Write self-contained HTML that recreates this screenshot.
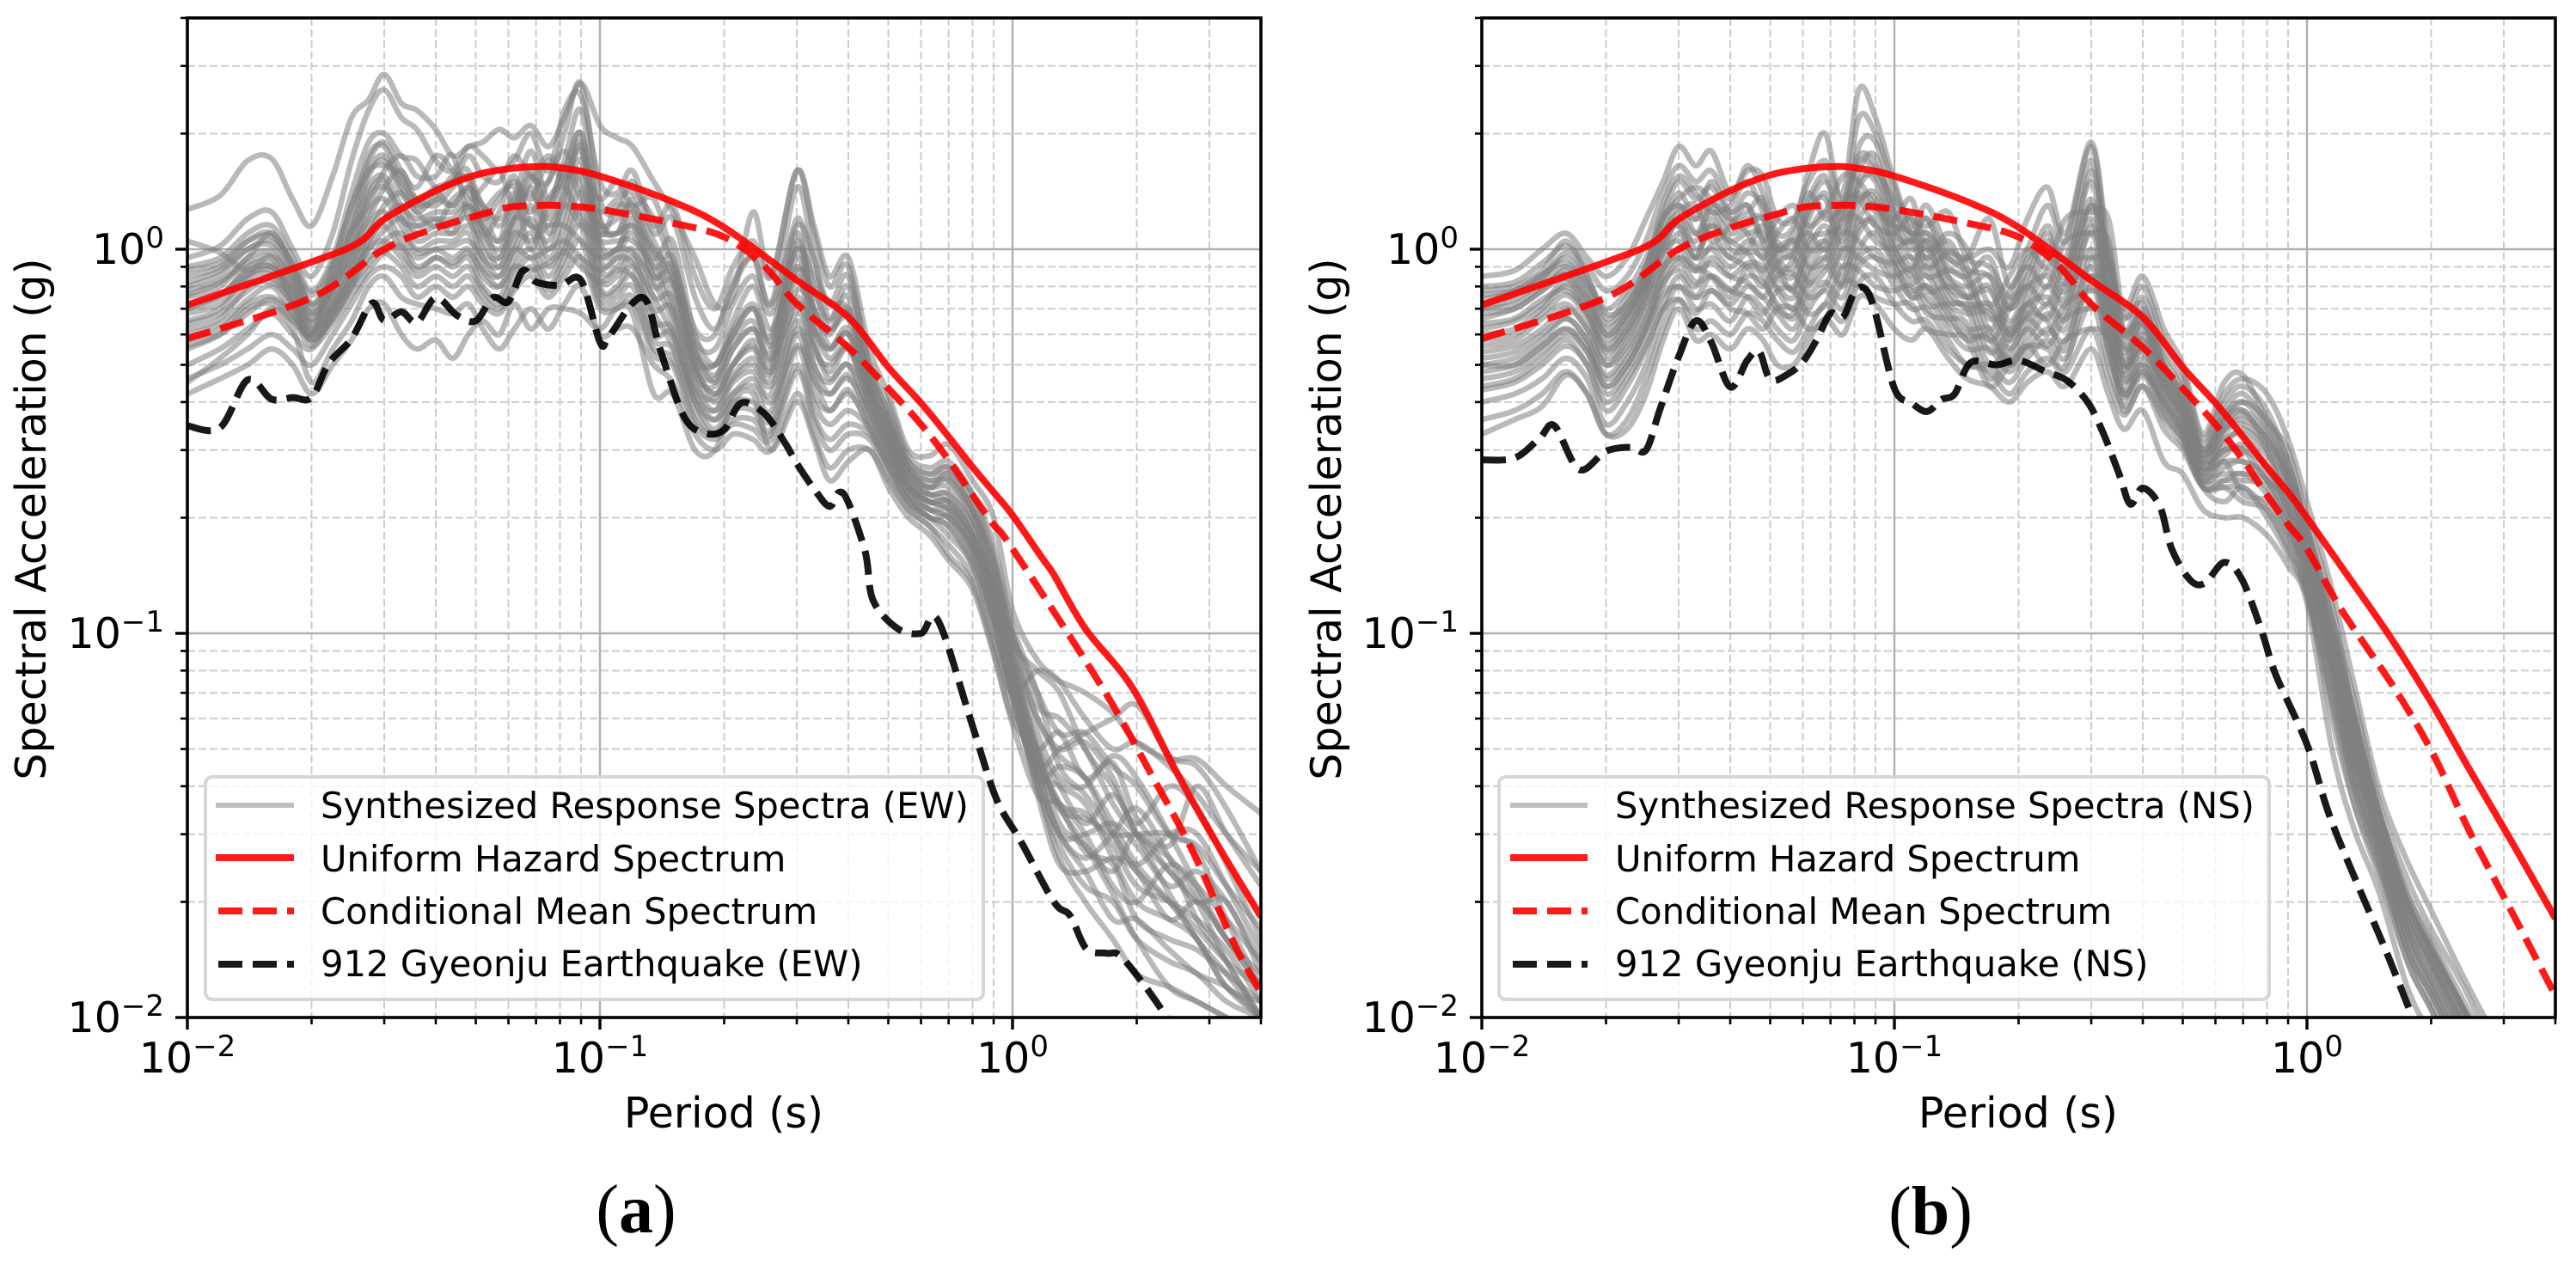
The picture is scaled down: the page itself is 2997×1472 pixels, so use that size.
<!DOCTYPE html>
<html lang="en">
<head>
<meta charset="utf-8">
<title>Spectral acceleration response spectra</title>
<style>
html,body{margin:0;padding:0;background:#fff;}
svg{display:block;font-family:"DejaVu Sans","Liberation Sans",sans-serif;}
.leg{font-size:41.7px;fill:#000;}
.axt{font-size:49px;fill:#000;}
.cap{font-family:"Liberation Serif",serif;font-size:80px;fill:#000;}
</style>
</head>
<body>
<svg id="figure" xmlns="http://www.w3.org/2000/svg" width="2997" height="1472" viewBox="0 0 2997 1472">
  <defs>
    <clipPath id="clip-a"><rect x="218" y="20.9" width="1249" height="1163.1"/></clipPath>
    <clipPath id="clip-b"><rect x="1724" y="20.9" width="1249" height="1163.1"/></clipPath>
  </defs>

  <g id="panel-a"></g>
  <g>
    <rect x="239" y="904" width="905" height="259" rx="8" fill="#fff" fill-opacity="0.8" stroke="#d6d6d6" stroke-width="4"/>
    <line x1="251" x2="342" y1="937" y2="937" stroke="#808080" stroke-opacity="0.5" stroke-width="6"/>
    <text class="leg" x="373" y="952">Synthesized Response Spectra (EW)</text>
    <line x1="251" x2="342" y1="998" y2="998" stroke="#ff0000" stroke-opacity="0.9" stroke-width="8"/>
    <text class="leg" x="373" y="1014">Uniform Hazard Spectrum</text>
    <line x1="254" x2="342" y1="1060" y2="1060" stroke="#ff0000" stroke-opacity="0.9" stroke-width="8" stroke-dasharray="28 12"/>
    <text class="leg" x="373" y="1075">Conditional Mean Spectrum</text>
    <line x1="254" x2="342" y1="1122" y2="1122" stroke="#000" stroke-opacity="0.9" stroke-width="8" stroke-dasharray="28 12"/>
    <text class="leg" x="373" y="1136">912 Gyeonju Earthquake (EW)</text>
  </g>
  <text class="axt" x="842" y="1312" text-anchor="middle">Period (s)</text>
  <text class="axt" transform="translate(53 604) rotate(-90)" text-anchor="middle">Spectral Acceleration (g)</text>
  <text class="cap" x="740" y="1434" text-anchor="middle">(<tspan font-weight="bold">a</tspan>)</text>

  <g id="panel-b"></g>
  <g>
    <rect x="1744" y="904" width="896" height="259" rx="8" fill="#fff" fill-opacity="0.8" stroke="#d6d6d6" stroke-width="4"/>
    <line x1="1757" x2="1847" y1="937" y2="937" stroke="#808080" stroke-opacity="0.5" stroke-width="6"/>
    <text class="leg" x="1879" y="952">Synthesized Response Spectra (NS)</text>
    <line x1="1757" x2="1847" y1="998" y2="998" stroke="#ff0000" stroke-opacity="0.9" stroke-width="8"/>
    <text class="leg" x="1879" y="1014">Uniform Hazard Spectrum</text>
    <line x1="1760" x2="1847" y1="1060" y2="1060" stroke="#ff0000" stroke-opacity="0.9" stroke-width="8" stroke-dasharray="28 12"/>
    <text class="leg" x="1879" y="1075">Conditional Mean Spectrum</text>
    <line x1="1760" x2="1847" y1="1122" y2="1122" stroke="#000" stroke-opacity="0.9" stroke-width="8" stroke-dasharray="28 12"/>
    <text class="leg" x="1879" y="1136">912 Gyeonju Earthquake (NS)</text>
  </g>
  <text class="axt" x="2348" y="1312" text-anchor="middle">Period (s)</text>
  <text class="axt" transform="translate(1560 604) rotate(-90)" text-anchor="middle">Spectral Acceleration (g)</text>
  <text class="cap" x="2246" y="1436" text-anchor="middle">(<tspan font-weight="bold">b</tspan>)</text>
</svg>

<script>
// ---- shared axis data ----
const majorTicks = [0.01, 0.1, 1];
const majorExponents = ["\u22122", "\u22121", "0"];
const minorMultiples = [2, 3, 4, 5, 6, 7, 8, 9];
const axisMin = 0.01;
const axisMax = 4;

// ---- period grid of the synthesized spectra (s) ----
const periods = [0.01,0.012,0.014,0.016,0.018,0.02,0.0225,0.025,0.0275,0.03,
0.033,0.036,0.04,0.044,0.048,0.052,0.057,0.062,0.068,0.075,
0.082,0.09,0.1,0.11,0.12,0.135,0.15,0.17,0.19,0.21,
0.235,0.26,0.3,0.33,0.36,0.4,0.45,0.5,0.56,0.63,
0.7,0.8,0.9,1,1.15,1.3,1.5,1.75,2,2.4,2.8,3.3,4];

// ---- synthesized spectra, EW component (g) ----
const synthesizedEW = [
[1.27,1.38,1.7,1.72,1.35,1.15,1.55,2.2,2.45,2.85,2.4,2.3,2.05,1.75,1.85,1.9,2.05,1.95,2.1,1.85,2.2,2.7,2.1,1.95,1.85,1.5,1.25,.95,.72,.75,1.25,.85,1.6,1.15,.85,.95,.55,.42,.3,.29,.31,.25,.2,.115,.085,.075,.06,.05,.052,.045,.038,.03,.024],
[.95,1.02,1.2,1.25,1.0,.85,1.1,1.7,2.3,2.6,2.2,2.05,1.7,1.6,1.85,1.75,1.6,1.7,2.0,1.6,2.3,2.5,1.5,1.4,1.6,1.15,1.3,.85,.7,.9,1.05,.85,1.6,1.1,.8,.9,.5,.4,.29,.27,.28,.23,.16,.1,.07,.055,.055,.045,.04,.03,.028,.022,.017],
[.9,.95,1.1,1.15,.95,.78,.95,1.4,1.9,2.0,1.75,1.7,1.45,1.5,1.75,1.55,1.5,1.75,1.55,1.5,2.0,2.7,1.35,1.25,1.5,1.1,1.2,.75,.62,.8,.95,.72,1.45,.95,.72,.85,.48,.38,.28,.26,.27,.22,.15,.095,.08,.07,.05,.04,.032,.04,.035,.025,.016],
[.85,.9,1.05,1.1,.9,.72,.88,1.2,1.75,1.85,1.5,1.35,1.3,1.45,1.55,1.3,1.2,1.35,1.8,1.35,1.7,2.3,1.2,1.1,1.35,.95,1.05,.6,.5,.62,.72,.6,1.2,.8,.65,.75,.45,.35,.27,.25,.25,.21,.14,.09,.06,.05,.052,.042,.03,.024,.02,.02,.013],
[.8,.86,1.0,1.02,.85,.68,.82,1.1,1.55,1.7,1.4,1.25,1.15,1.35,1.4,1.15,1.05,1.25,1.6,1.2,1.5,2.0,1.05,1.0,1.2,.85,.9,.55,.45,.55,.62,.55,1.05,.7,.6,.7,.44,.34,.26,.24,.24,.2,.135,.085,.05,.035,.033,.03,.03,.03,.027,.018,.012],
[.75,.8,.95,.98,.82,.65,.8,1.05,1.45,1.55,1.3,1.2,1.25,1.25,1.3,1.0,.95,1.15,1.45,1.1,1.35,1.85,.95,.95,1.1,.8,.82,.5,.42,.5,.58,.5,.95,.62,.55,.62,.42,.33,.25,.23,.23,.19,.13,.08,.045,.04,.036,.026,.02,.018,.016,.012,.011],
[.7,.75,.9,.92,.8,.62,.75,.95,1.35,1.45,1.25,1.1,1.15,1.15,1.2,.95,.9,1.05,1.3,1.0,1.25,1.7,.9,.9,1.0,.75,.75,.48,.4,.47,.52,.46,.85,.55,.5,.55,.4,.32,.25,.22,.22,.18,.125,.078,.042,.03,.026,.03,.035,.026,.018,.014,.01],
[.65,.7,.85,.88,.75,.6,.7,.9,1.25,1.35,1.15,1.0,1.05,1.05,1.1,.9,.85,1.0,1.2,.95,1.15,1.55,.85,.85,.95,.7,.7,.45,.38,.45,.48,.42,.75,.5,.45,.5,.38,.3,.24,.22,.21,.17,.12,.075,.04,.028,.022,.02,.016,.014,.013,.011,.01],
[.62,.66,.8,.82,.72,.58,.68,.85,1.15,1.25,1.05,.95,1.0,.95,1.0,.85,.8,.95,1.1,.9,1.05,1.4,.8,.8,.9,.65,.62,.42,.36,.42,.44,.38,.65,.46,.42,.46,.37,.29,.24,.21,.2,.165,.115,.072,.038,.025,.024,.026,.024,.018,.02,.016,.012],
[.58,.62,.72,.75,.68,.58,.66,.8,1.05,1.15,1.0,.88,.95,.9,.95,.8,.75,.9,1.0,.85,1.0,1.25,.78,.78,.85,.6,.6,.4,.34,.4,.4,.36,.6,.42,.38,.42,.35,.28,.23,.21,.2,.16,.11,.07,.045,.035,.028,.021,.016,.012,.011,.01,.009],
[.55,.6,.7,.72,.65,.6,.72,.85,1.0,1.05,.95,.85,.9,.85,.9,.78,.72,.85,.95,.8,.95,1.15,.75,.75,.8,.58,.55,.38,.33,.38,.38,.34,.55,.4,.35,.38,.34,.27,.22,.2,.19,.15,.105,.068,.042,.045,.042,.032,.025,.02,.016,.012,.01],
[.5,.55,.62,.68,.6,.55,.68,.8,.95,.98,.9,.8,.85,.8,.85,.75,.7,.8,.9,.78,.9,1.05,.72,.72,.75,.55,.52,.36,.33,.36,.36,.33,.5,.37,.32,.35,.33,.27,.22,.2,.18,.15,.1,.065,.045,.05,.055,.06,.065,.048,.045,.035,.024],
[.46,.5,.55,.6,.55,.5,.6,.72,.85,.9,.85,.75,.8,.75,.8,.72,.68,.78,.85,.75,.85,.95,.7,.7,.72,.53,.5,.35,.32,.35,.34,.32,.48,.36,.3,.33,.32,.26,.21,.19,.17,.14,.095,.07,.08,.075,.07,.062,.052,.047,.047,.04,.034],
[.45,.52,.6,.7,.62,.45,.55,.65,.8,.85,.75,.72,.7,.68,.72,.62,.55,.62,.7,.62,.72,.8,.6,.62,.62,.5,.45,.33,.3,.33,.32,.3,.42,.33,.27,.3,.3,.25,.21,.19,.16,.135,.09,.06,.05,.055,.042,.046,.033,.028,.04,.03,.022],
[.42,.46,.5,.55,.5,.42,.5,.58,.7,.72,.6,.55,.58,.52,.6,.65,.6,.72,.62,.7,.7,.68,.62,.7,.68,.42,.42,.3,.3,.4,.42,.3,.4,.32,.25,.28,.3,.24,.2,.18,.155,.13,.088,.058,.038,.036,.03,.022,.02,.025,.022,.018,.014],
[1.05,.98,.88,.95,.72,.6,.9,1.3,1.6,1.65,1.55,1.3,1.35,1.55,1.5,1.2,1.35,1.5,1.35,1.7,1.5,1.8,1.1,1.3,1.25,1.0,.85,.52,.5,.6,.7,.58,1.0,.7,.62,.68,.46,.36,.27,.24,.26,.21,.15,.095,.06,.048,.042,.03,.025,.03,.03,.022,.015],
[.78,.83,.95,1.1,.9,.72,.85,1.15,1.6,1.75,1.45,1.3,1.4,1.3,1.45,1.3,1.15,1.3,1.55,1.3,1.6,2.0,1.2,1.1,1.25,.9,.95,.55,.47,.58,.65,.52,1.1,.66,.55,.6,.43,.33,.26,.23,.22,.18,.13,.082,.048,.036,.027,.025,.018,.016,.015,.013,.011],
[.72,.76,.88,.9,.78,.66,.78,1.0,1.4,1.5,1.2,1.15,1.2,1.1,1.3,1.1,1.0,1.2,1.4,1.15,1.4,1.9,1.0,1.0,1.15,.85,.85,.5,.42,.5,.55,.48,.9,.58,.48,.55,.4,.31,.24,.22,.21,.17,.125,.076,.044,.03,.03,.032,.028,.022,.024,.02,.014],
[.88,.92,1.05,1.08,.92,.76,.92,1.3,1.7,1.9,1.6,1.45,1.75,1.6,1.35,1.45,1.6,1.3,1.5,1.75,1.55,1.6,1.35,1.5,1.3,1.35,.95,.62,.6,.82,.95,.72,1.15,.95,.66,.8,.5,.37,.28,.26,.27,.23,.17,.105,.07,.045,.038,.03,.024,.02,.017,.014,.012],
[.82,.88,1.0,1.05,.88,.7,.84,1.12,1.3,1.6,1.75,1.55,1.55,1.75,1.2,1.25,1.4,1.45,1.25,1.5,1.8,1.45,1.25,1.35,1.4,1.2,.9,.58,.55,.72,.85,.68,1.0,.85,.72,.7,.47,.36,.27,.25,.26,.21,.155,.1,.065,.06,.05,.036,.03,.026,.021,.016,.013],
[.76,.82,.92,.96,.84,.68,.8,1.0,1.2,1.45,1.6,1.35,1.45,1.5,1.6,1.1,1.25,1.55,1.15,1.25,1.65,1.35,1.15,1.2,1.3,1.05,.8,.54,.5,.65,.8,.62,.88,.78,.62,.66,.44,.34,.26,.24,.25,.2,.14,.09,.055,.042,.04,.048,.042,.03,.022,.016,.012],
[.7,.76,.86,.9,.78,.64,.76,.94,1.1,1.3,1.4,1.25,1.35,1.3,1.45,1.25,1.05,1.4,1.0,1.35,1.45,1.2,1.1,1.1,1.15,.98,.72,.5,.46,.6,.7,.56,.78,.7,.56,.6,.42,.32,.25,.23,.23,.19,.13,.085,.05,.036,.034,.028,.022,.02,.018,.015,.011],
[.68,.72,.84,.86,.74,.62,.72,.88,1.05,1.2,1.3,1.15,1.2,1.2,1.3,1.15,.95,1.2,1.15,1.05,1.3,1.15,1.05,1.05,1.05,.9,.68,.47,.44,.55,.62,.52,.72,.62,.52,.56,.4,.31,.24,.22,.22,.18,.12,.08,.048,.032,.028,.024,.03,.024,.02,.014,.01],
[.64,.68,.78,.84,.72,.6,.7,.84,1.0,1.12,1.2,1.05,1.1,1.1,1.15,1.05,.9,1.1,1.05,1.15,1.15,1.05,.95,1.0,.98,.82,.65,.44,.41,.5,.56,.48,.68,.56,.46,.5,.38,.3,.23,.21,.21,.175,.118,.074,.044,.03,.024,.018,.018,.015,.013,.012,.01],
[.6,.64,.74,.8,.68,.58,.66,.8,.92,1.05,1.1,.98,1.0,1.02,1.05,.95,.85,1.0,.95,1.0,1.05,.95,.88,.95,.92,.75,.6,.42,.38,.46,.5,.44,.62,.5,.42,.47,.36,.29,.23,.2,.2,.165,.11,.07,.05,.04,.032,.038,.03,.021,.016,.013,.01],
[.56,.6,.68,.74,.66,.56,.64,.76,.88,.98,1.02,.9,.95,.92,.98,.88,.8,.9,.88,.92,.98,.9,.82,.88,.85,.68,.56,.4,.36,.42,.46,.4,.56,.46,.38,.43,.34,.28,.22,.2,.19,.155,.108,.068,.04,.026,.02,.016,.013,.012,.011,.01,.009]
];

// ---- synthesized spectra, NS component (g) ----
const synthesizedNS = [
[.85,.88,1.0,1.1,.95,.85,.95,1.2,1.5,1.85,1.65,1.8,1.4,1.6,1.55,1.2,1.2,1.5,1.7,1.4,2.6,2.2,1.5,1.15,1.3,1.0,.95,1.0,.9,1.2,1.45,1.1,1.9,1.0,.7,.85,.62,.5,.33,.45,.47,.36,.3,.2,.12,.06,.032,.02,.015,.0105,.008,.006,.0045],
[.8,.82,.92,1.02,.9,.78,.85,1.05,1.4,1.65,1.5,1.6,1.35,1.65,1.4,1.1,1.15,1.6,2.0,1.3,2.2,2.0,1.45,1.1,1.2,.95,.95,1.2,.8,1.0,1.3,1.05,1.85,.95,.66,.8,.58,.48,.32,.42,.46,.42,.32,.22,.13,.074,.039,.0255,.019,.0127,.0093,.007,.005],
[.72,.76,.85,.95,.82,.7,.78,.95,1.25,1.5,1.35,1.45,1.25,1.4,1.3,1.05,1.0,1.35,1.55,1.2,1.85,1.9,1.3,1.05,1.1,.9,.85,.95,.7,.9,1.15,.95,1.7,.85,.6,.75,.55,.45,.31,.4,.44,.38,.28,.19,.11,.068,.036,.023,.017,.012,.0085,.0065,.005],
[.66,.7,.78,.88,.75,.62,.7,.85,1.15,1.4,1.2,1.3,1.15,1.2,1.2,.95,.9,1.2,1.4,1.1,1.6,1.75,1.2,1.0,1.05,.85,.8,.85,.65,.8,1.05,.9,1.5,.8,.56,.7,.52,.43,.3,.37,.4,.34,.26,.18,.1,.06,.034,.021,.016,.011,.008,.006,.0045],
[.62,.65,.72,.82,.7,.56,.65,.8,1.05,1.3,1.1,1.15,1.05,1.1,1.1,.9,.85,1.1,1.25,1.05,1.45,1.55,1.15,.95,1.0,.8,.75,.8,.6,.75,.95,.82,1.35,.75,.52,.65,.5,.41,.29,.34,.36,.32,.25,.17,.095,.055,.032,.02,.015,.0105,.0075,.0055,.004],
[.58,.6,.68,.76,.66,.52,.6,.75,1.0,1.2,1.0,1.1,.95,1.05,1.0,.85,.8,1.0,1.15,.95,1.3,1.4,1.05,.9,.95,.78,.7,.72,.58,.7,.88,.78,1.2,.7,.5,.62,.47,.39,.28,.32,.33,.29,.24,.165,.09,.052,.031,.019,.0145,.0098,.0072,.0052,.004],
[.54,.56,.62,.7,.62,.5,.56,.7,.92,1.1,.95,1.0,.9,.98,.95,.8,.75,.95,1.05,.9,1.2,1.3,1.0,.85,.9,.72,.68,.68,.55,.66,.8,.72,1.1,.66,.47,.58,.45,.37,.27,.3,.3,.27,.22,.16,.088,.05,.03,.018,.014,.0095,.007,.005,.0038],
[.5,.52,.58,.66,.58,.46,.52,.65,.88,1.0,.88,.92,.85,.92,.9,.78,.7,.88,1.0,.85,1.1,1.2,.95,.82,.85,.7,.62,.62,.52,.62,.72,.66,1.0,.62,.45,.55,.43,.36,.27,.28,.28,.26,.21,.155,.085,.048,.03,.0175,.0135,.0092,.0068,.005,.0036],
[.46,.48,.54,.6,.54,.42,.48,.6,.8,.92,.82,.85,.78,.85,.82,.72,.66,.8,.9,.8,1.0,1.1,.9,.78,.8,.65,.6,.58,.5,.58,.68,.62,.9,.58,.43,.52,.41,.34,.26,.26,.26,.25,.2,.15,.082,.046,.029,.017,.013,.009,.0066,.0048,.0035],
[.43,.45,.5,.56,.5,.38,.44,.55,.72,.85,.75,.78,.72,.8,.75,.68,.62,.75,.82,.75,.95,1.0,.85,.75,.75,.62,.55,.55,.48,.55,.62,.58,.8,.55,.41,.5,.39,.33,.25,.25,.25,.24,.19,.145,.08,.045,.028,.0165,.0125,.0085,.0062,.0046,.0034],
[.4,.42,.46,.52,.46,.35,.4,.5,.68,.8,.7,.72,.65,.75,.7,.62,.58,.7,.78,.7,.9,.95,.8,.7,.7,.58,.5,.5,.45,.52,.58,.52,.72,.5,.39,.47,.37,.32,.25,.28,.23,.22,.18,.14,.075,.042,.027,.016,.012,.008,.006,.0044,.0032],
[.36,.38,.42,.48,.42,.33,.36,.46,.62,.74,.62,.65,.6,.68,.65,.58,.54,.62,.72,.65,.82,.85,.72,.65,.65,.55,.5,.48,.42,.48,.52,.48,.62,.46,.37,.44,.34,.3,.24,.24,.22,.21,.17,.13,.07,.04,.026,.015,.0115,.0078,.0058,.0042,.003],
[.33,.36,.39,.47,.42,.33,.34,.42,.58,.7,.58,.6,.55,.62,.58,.5,.5,.58,.66,.6,.75,.72,.62,.58,.62,.52,.46,.44,.4,.45,.48,.44,.55,.42,.34,.38,.28,.26,.21,.2,.2,.18,.15,.12,.05,.031,.021,.012,.009,.0065,.005,.0035,.0025],
[.78,.8,.88,1.05,.85,.66,.75,.9,1.3,1.55,1.4,1.25,1.3,1.5,1.25,1.0,1.1,1.4,1.2,1.3,1.7,1.6,1.35,1.2,1.15,1.25,.95,.9,.75,.85,1.1,.85,1.6,.9,.6,.68,.5,.4,.29,.36,.38,.31,.25,.17,.1,.058,.033,.02,.015,.0105,.0076,.0055,.004],
[.7,.74,.82,.9,.78,.6,.68,.82,1.1,1.25,1.3,1.05,1.15,1.3,1.05,.88,.95,1.25,1.35,1.0,1.5,1.5,1.1,1.05,1.2,.85,.75,.78,.62,.72,.75,.68,1.15,.72,.5,.56,.44,.36,.26,.33,.35,.3,.2,.13,.06,.036,.024,.014,.0105,.0072,.0055,.004,.003],
[.6,.62,.7,.8,.68,.54,.62,.78,1.05,1.15,.95,1.2,1.0,1.0,1.15,.92,.78,1.05,1.1,1.15,1.35,1.35,1.0,.88,1.05,.75,.72,.7,.6,.68,.65,.55,.95,.6,.48,.6,.46,.38,.28,.3,.3,.25,.22,.15,.09,.052,.03,.019,.014,.0098,.0072,.0052,.004],
[.5,.5,.56,.62,.56,.44,.5,.62,.85,.95,.9,.85,.75,.9,.85,.7,.68,.85,.95,.82,1.15,1.15,.92,.75,.8,.68,.58,.6,.5,.56,.55,.5,.85,.54,.42,.48,.4,.33,.24,.22,.24,.2,.16,.125,.068,.04,.025,.015,.011,.0075,.0055,.004,.003],
[.76,.78,.84,.98,.85,.68,.72,.88,1.2,1.35,1.45,1.35,1.2,1.25,1.35,1.0,.98,1.3,1.5,1.25,1.75,1.65,1.25,1.1,1.1,.95,.88,.85,.7,.8,.85,.75,1.3,.78,.54,.64,.48,.4,.3,.38,.42,.35,.27,.185,.105,.062,.034,.021,.0155,.0105,.0078,.0056,.0042],
[.74,.78,.86,.92,.8,.64,.72,.9,1.2,1.3,1.2,1.5,1.25,1.3,1.05,1.2,1.3,1.15,1.25,1.55,1.5,1.3,1.2,1.35,1.0,1.1,1.0,.72,.85,1.0,.9,1.2,1.25,1.2,.68,.72,.5,.42,.3,.36,.4,.36,.28,.19,.11,.062,.034,.02,.015,.0105,.0078,.0056,.0042],
[.68,.7,.78,.84,.72,.58,.66,.82,1.1,1.15,1.05,1.3,1.2,1.1,.95,1.1,1.2,1.0,1.05,1.35,1.35,1.15,1.1,1.2,.9,.98,.9,.62,.78,.9,.8,1.05,1.1,1.05,.6,.64,.46,.39,.28,.34,.37,.32,.25,.17,.1,.056,.032,.019,.014,.0098,.0072,.0052,.004],
[.64,.66,.74,.78,.68,.55,.62,.76,.98,1.05,.95,1.15,1.05,.98,.88,1.0,1.05,.9,.95,1.2,1.2,1.05,1.0,1.05,.85,.88,.82,.58,.7,.8,.72,.92,.95,.92,.56,.58,.44,.37,.27,.31,.34,.3,.23,.16,.09,.05,.03,.018,.0135,.0092,.0068,.005,.0036],
[.56,.58,.66,.72,.62,.5,.58,.72,.9,.95,.88,1.02,.95,.9,.8,.92,.95,.82,.88,1.1,1.05,.95,.92,.95,.78,.8,.75,.54,.62,.72,.66,.82,.85,.8,.5,.54,.42,.35,.26,.29,.31,.27,.21,.15,.085,.047,.028,.017,.0125,.0088,.0065,.0047,.0035],
[.52,.54,.6,.66,.58,.47,.54,.66,.82,.88,.8,.95,.85,.82,.75,.85,.86,.75,.8,1.0,.95,.88,.85,.88,.72,.72,.7,.5,.58,.66,.6,.72,.78,.72,.46,.5,.4,.34,.25,.27,.28,.25,.19,.14,.08,.044,.027,.016,.012,.0082,.006,.0044,.0033],
[.48,.5,.56,.62,.54,.44,.5,.62,.76,.8,.75,.85,.78,.75,.68,.78,.78,.68,.72,.9,.88,.8,.78,.8,.68,.66,.64,.46,.54,.62,.56,.66,.7,.65,.42,.48,.38,.32,.24,.25,.26,.23,.18,.13,.075,.04,.025,.015,.0115,.0078,.0058,.0042,.003],
[.44,.46,.52,.58,.5,.4,.46,.56,.7,.74,.68,.78,.7,.68,.62,.7,.7,.62,.66,.82,.8,.75,.72,.72,.62,.6,.58,.44,.5,.56,.5,.58,.62,.58,.38,.44,.36,.31,.24,.24,.24,.21,.165,.125,.065,.036,.023,.014,.0105,.0072,.0055,.004,.003],
[.7,.72,.8,.86,.74,.6,.68,.84,1.0,1.2,1.1,1.25,1.1,1.15,1.2,1.0,1.05,1.1,1.0,1.25,1.4,1.25,1.15,1.1,.95,1.05,.85,.66,.72,.95,.98,.88,1.3,.98,.62,.66,.48,.4,.29,.35,.38,.33,.26,.18,.1,.058,.033,.02,.015,.0105,.0076,.0055,.004]
];

// ---- Uniform Hazard Spectrum, EW ----
const uhsPeriodsEW = [0.01,0.02,0.026,0.03,0.04,0.05,0.06,0.07,0.08,0.1,0.15,0.2,0.3,0.4,0.5,0.6,0.7,0.8,0.9,1,1.18,1.26,1.5,1.95,2.5,3.15,4];
const uhsValuesEW = [0.716,0.926,1.04,1.197,1.42,1.56,1.62,1.64,1.63,1.55,1.33,1.14,0.83,0.665,0.493,0.398,0.325,0.271,0.233,0.203,0.157,0.142,0.103,0.0723,0.0434,0.028,0.0183];
// ---- Conditional Mean Spectrum, EW ----
const cmsPeriodsEW = [0.01,0.02,0.03,0.04,0.05,0.06,0.07,0.08,0.1,0.15,0.2,0.25,0.3,0.4,0.5,0.6,0.7,0.8,0.9,1,1.65,2.18,2.75,3.45,4];
const cmsValuesEW = [0.585,0.748,1.0,1.135,1.22,1.285,1.30,1.30,1.27,1.17,1.076,0.906,0.72,0.555,0.434,0.35,0.283,0.229,0.192,0.166,0.0723,0.0425,0.0267,0.0155,0.0116];
// ---- 912 Gyeonju Earthquake, EW ----
const quakePeriodsEW = [0.01,0.012,0.014,0.016,0.018,0.02,0.022,0.025,0.028,0.03,0.033,0.036,0.04,0.045,0.05,0.055,0.06,0.065,0.07,0.08,0.09,0.1,0.105,0.12,0.13,0.14,0.16,0.18,0.2,0.22,0.25,0.28,0.3,0.33,0.36,0.38,0.4,0.44,0.459,0.526,0.6,0.66,0.795,0.913,1.05,1.26,1.38,1.51,1.69,1.82,2.08,2.37];
const quakeValuesEW = [0.347,0.343,0.457,0.407,0.411,0.411,0.504,0.585,0.724,0.652,0.687,0.645,0.748,0.673,0.651,0.748,0.73,0.879,0.822,0.805,0.83,0.573,0.591,0.724,0.73,0.548,0.366,0.332,0.339,0.398,0.374,0.315,0.277,0.238,0.214,0.233,0.219,0.162,0.122,0.103,0.1,0.108,0.0586,0.0372,0.0286,0.02,0.0184,0.0151,0.0147,0.0145,0.0122,0.0100];

// ---- Uniform Hazard Spectrum, NS ----
const uhsPeriodsNS = [0.01,0.02,0.026,0.03,0.04,0.05,0.06,0.07,0.08,0.1,0.15,0.2,0.3,0.4,0.5,0.6,0.7,0.8,0.9,1,1.24,1.59,2.0,2.46,3.14,4];
const uhsValuesNS = [0.716,0.926,1.04,1.197,1.42,1.56,1.62,1.64,1.63,1.55,1.33,1.14,0.83,0.665,0.493,0.398,0.325,0.271,0.233,0.2,0.144,0.098,0.0662,0.0448,0.0286,0.0181];
// ---- Conditional Mean Spectrum, NS ----
const cmsPeriodsNS = [0.01,0.02,0.03,0.04,0.05,0.06,0.07,0.08,0.1,0.15,0.2,0.25,0.3,0.4,0.5,0.6,0.7,0.8,0.9,1,1.21,1.63,2.02,2.46,3.14,4];
const cmsValuesNS = [0.585,0.748,1.0,1.135,1.22,1.285,1.30,1.30,1.27,1.17,1.076,0.906,0.72,0.555,0.434,0.35,0.283,0.229,0.192,0.166,0.1156,0.0719,0.0486,0.031,0.0188,0.0114];
// ---- 912 Gyeonju Earthquake, NS ----
const quakePeriodsNS = [0.01,0.012,0.0138,0.015,0.0172,0.02,0.023,0.025,0.027,0.03,0.033,0.036,0.04,0.044,0.047,0.05,0.055,0.06,0.065,0.07,0.075,0.08,0.085,0.09,0.1,0.11,0.12,0.13,0.14,0.153,0.177,0.2,0.232,0.262,0.294,0.32,0.351,0.373,0.4,0.44,0.47,0.52,0.565,0.63,0.696,0.78,0.84,1,1.13,1.31,1.55,1.79];
const quakeValuesNS = [0.283,0.286,0.322,0.347,0.267,0.298,0.305,0.30,0.382,0.525,0.651,0.572,0.438,0.514,0.542,0.458,0.472,0.509,0.585,0.68,0.665,0.773,0.789,0.68,0.434,0.398,0.378,0.406,0.42,0.507,0.50,0.514,0.481,0.455,0.40,0.334,0.259,0.217,0.239,0.214,0.166,0.138,0.135,0.153,0.138,0.10,0.078,0.0514,0.0339,0.0229,0.015,0.0102];

// ---- axis scales ----
const SVGNS = "http://www.w3.org/2000/svg";
const pxPerDecadeX = 480;
const pxPerDecadeY = 447;
const yOfUnity = 290;
function yPos(v){ return yOfUnity - pxPerDecadeY * Math.log10(v); }
function xScale(left){ return function(t){ return left + pxPerDecadeX * (Math.log10(t) + 2); }; }
function make(tag, attrs){
  const el = document.createElementNS(SVGNS, tag);
  for (const k in attrs) el.setAttribute(k, attrs[k]);
  return el;
}
function minorValues(){
  const out = [];
  for (const d of majorTicks) for (const m of minorMultiples) {
    const v = d * m;
    if (v > axisMin && v <= axisMax) out.push(v);
  }
  return out;
}
// Smooth path through the data points (Catmull-Rom to cubic Bezier)
function pathOf(xs, ys, xPos){
  const pts = [];
  for (let i = 0; i < xs.length && i < ys.length; i++) pts.push([xPos(xs[i]), yPos(ys[i])]);
  let d = "M" + pts[0][0].toFixed(1) + " " + pts[0][1].toFixed(1);
  for (let i = 0; i < pts.length - 1; i++) {
    const p0 = pts[Math.max(0, i - 1)], p1 = pts[i], p2 = pts[i + 1], p3 = pts[Math.min(pts.length - 1, i + 2)];
    const c1x = p1[0] + (p2[0] - p0[0]) / 6, c1y = p1[1] + (p2[1] - p0[1]) / 6;
    const c2x = p2[0] - (p3[0] - p1[0]) / 6, c2y = p2[1] - (p3[1] - p1[1]) / 6;
    d += "C" + c1x.toFixed(1) + " " + c1y.toFixed(1) + " " + c2x.toFixed(1) + " " + c2y.toFixed(1) + " " + p2[0].toFixed(1) + " " + p2[1].toFixed(1);
  }
  return d;
}

function drawPanel(cfg){
  const g = document.getElementById(cfg.id);
  const xPos = xScale(cfg.left);
  const left = xPos(axisMin), right = xPos(axisMax);
  const top = yPos(axisMax), bottom = yPos(axisMin);

  const grid = make("g", {});
  
  
  g.appendChild(grid);
  for (const v of minorValues()) {
    const vl = make("line", {x1:xPos(v), x2:xPos(v), y1:top, y2:bottom, stroke:"#cccccc", "stroke-width":2, "stroke-dasharray":"9 4"});
    
    
    grid.appendChild(vl);
    const hl = make("line", {x1:left, x2:right, y1:yPos(v), y2:yPos(v), stroke:"#cccccc", "stroke-width":2, "stroke-dasharray":"9 4"});
    
    
    grid.appendChild(hl);
  }
  for (const v of majorTicks) {
    const vl = make("line", {x1:xPos(v), x2:xPos(v), y1:top, y2:bottom, stroke:"#b0b0b0", "stroke-width":2.4});
    
    
    grid.appendChild(vl);
    const hl = make("line", {x1:left, x2:right, y1:yPos(v), y2:yPos(v), stroke:"#b0b0b0", "stroke-width":2.4});
    
    
    grid.appendChild(hl);
  }

  const marks = make("g", {"clip-path":"url(#" + cfg.clip + ")", fill:"none", "stroke-linejoin":"round"});
  
  
  g.appendChild(marks);
  for (const s of cfg.synth) {
    const p = make("path", {d:pathOf(periods, s, xPos), stroke:"#808080", "stroke-opacity":0.55, "stroke-width":6.5});
    
    
    marks.appendChild(p);
  }
  const uhs = make("path", {d:pathOf(cfg.uhsT, cfg.uhsV, xPos), stroke:"#ff0000", "stroke-opacity":0.9, "stroke-width":8});
  
  
  marks.appendChild(uhs);
  const cms = make("path", {d:pathOf(cfg.cmsT, cfg.cmsV, xPos), stroke:"#ff0000", "stroke-opacity":0.9, "stroke-width":8, "stroke-dasharray":"28 12"});
  
  
  marks.appendChild(cms);
  const eq = make("path", {d:pathOf(cfg.eqT, cfg.eqV, xPos), stroke:"#000000", "stroke-opacity":0.9, "stroke-width":8, "stroke-dasharray":"28 12"});
  
  
  marks.appendChild(eq);

  const axes = make("g", {stroke:"#000"});
  
  
  g.appendChild(axes);
  const frame = make("rect", {x:left, y:top, width:right-left, height:bottom-top, fill:"none", "stroke-width":3.6});
  
  
  axes.appendChild(frame);
  for (const v of minorValues()) {
    const tx = make("line", {x1:xPos(v), x2:xPos(v), y1:bottom, y2:bottom+8, "stroke-width":2.6});
    
    
    axes.appendChild(tx);
    const ty = make("line", {x1:left-8, x2:left, y1:yPos(v), y2:yPos(v), "stroke-width":2.6});
    
    
    axes.appendChild(ty);
  }
  majorTicks.forEach(function(v, i){
    const tx = make("line", {x1:xPos(v), x2:xPos(v), y1:bottom, y2:bottom+14, "stroke-width":3.4});
    
    
    axes.appendChild(tx);
    const ty = make("line", {x1:left-14, x2:left, y1:yPos(v), y2:yPos(v), "stroke-width":3.4});
    
    
    axes.appendChild(ty);

    const lx = make("text", {x:xPos(v), y:bottom+64, "text-anchor":"middle", "font-size":49, fill:"#000"});
    
    
    const bx = make("tspan", {}); bx.textContent = "10";
    const ex = make("tspan", {dy:-19, "font-size":34}); ex.textContent = majorExponents[i];
    lx.appendChild(bx); lx.appendChild(ex);
    g.appendChild(lx);

    const ly = make("text", {x:left-27, y:yPos(v)+17, "text-anchor":"end", "font-size":49, fill:"#000"});
    
    
    const by = make("tspan", {}); by.textContent = "10";
    const ey = make("tspan", {dy:-19, "font-size":34}); ey.textContent = majorExponents[i];
    ly.appendChild(by); ly.appendChild(ey);
    g.appendChild(ly);
  });
}

drawPanel({id:"panel-a", clip:"clip-a", left:218, synth:synthesizedEW,
  uhsT:uhsPeriodsEW, uhsV:uhsValuesEW, cmsT:cmsPeriodsEW, cmsV:cmsValuesEW, eqT:quakePeriodsEW, eqV:quakeValuesEW});
drawPanel({id:"panel-b", clip:"clip-b", left:1724, synth:synthesizedNS,
  uhsT:uhsPeriodsNS, uhsV:uhsValuesNS, cmsT:cmsPeriodsNS, cmsV:cmsValuesNS, eqT:quakePeriodsNS, eqV:quakeValuesNS});
</script>
</body>
</html>
